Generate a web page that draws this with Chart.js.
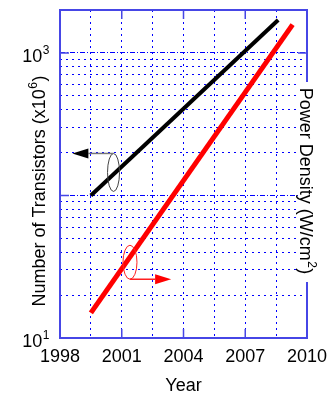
<!DOCTYPE html>
<html>
<head>
<meta charset="utf-8">
<script src="https://cdn.jsdelivr.net/npm/chart.js@4.4.0/dist/chart.umd.min.js"></script>
<style>
  html, body { margin: 0; padding: 0; background: #fff; }
  #wrap { width: 336px; height: 393px; }
</style>
</head>
<body>
<div id="wrap"><canvas id="chart" width="336" height="393"></canvas></div>
<script>
// values
const transistorYears = [1999.5, 2008.6]
const transistors = [100, 1700]
const powerYears = [1999.5, 2009.3]
const powerDensity = [15, 1580]

// axes
const yearGrid = [1998, 1999.5, 2001, 2002.5, 2004, 2005.5, 2007, 2008.5, 2010]
const yearLabels = [1998, 2001, 2004, 2007, 2010]
const logGrid = [10, 20, 30, 40, 50, 60, 70, 80, 90, 100, 200, 300, 400, 500, 600, 700, 800, 900, 1000, 2000]
const logMajor = [100, 1000]
const logLabelValues = [10, 1000]
const logLabelExponents = ['1', '3']

const family = "'Liberation Sans', Arial, sans-serif"
const gridBlue = '#0000ff'
const axisBlue = '#4646e6'

// the two circled-line markers with their arrows
const marks = [
  { year: 2000.6, value: 145, rx: 6, ry: 19, toYear: 1998.6, side: 'top', ring: '#444', shaft: '#777', head: '#000' },
  { year: 2001.4, value: 34, rx: 7, ry: 17, toYear: 2003.4, side: 'bottom', ring: '#ff2020', shaft: '#ff2020', head: '#ff0000' }
]

const toPoints = (xs, ys) => xs.map((x, i) => ({ x: x, y: ys[i] }))

// text with a raised part: [before, sup, after], drawn on an alphabetic baseline
function drawSupText (ctx, parts, x, y, angle, align) {
  const big = '18px ' + family
  const small = '12px ' + family
  ctx.save()
  ctx.translate(x, y)
  ctx.rotate(angle)
  ctx.textBaseline = 'alphabetic'
  ctx.textAlign = 'left'
  ctx.font = big
  const w0 = ctx.measureText(parts[0]).width
  const w2 = ctx.measureText(parts[2]).width
  ctx.font = small
  const w1 = ctx.measureText(parts[1]).width + 1
  const total = w0 + w1 + w2
  let u = align === 'right' ? -total : -total / 2
  ctx.font = big
  ctx.fillText(parts[0], u, 0)
  u += w0
  ctx.font = small
  ctx.fillText(parts[1], u + 0.5, -8)
  u += w1
  ctx.font = big
  ctx.fillText(parts[2], u, 0)
  ctx.restore()
}

const framePlugin = {
  id: 'frame',
  beforeDatasetsDraw (chart) {
    const { ctx, chartArea: a, scales } = chart
    const tick = 9
    ctx.save()
    ctx.strokeStyle = axisBlue
    ctx.lineWidth = 1.5
    ctx.beginPath()
    yearLabels.slice(1, -1).forEach(v => {
      const x = scales.x.getPixelForValue(v)
      ctx.moveTo(x, a.bottom)
      ctx.lineTo(x, a.bottom - tick)
      ctx.moveTo(x, a.top)
      ctx.lineTo(x, a.top + tick)
    })
    logMajor.forEach(v => {
      const y = scales.y.getPixelForValue(v)
      ctx.moveTo(a.left, y)
      ctx.lineTo(a.left + tick, y)
      ctx.moveTo(a.right, y)
      ctx.lineTo(a.right - tick, y)
    })
    ctx.stroke()
    ctx.lineWidth = 2
    ctx.strokeRect(a.left, a.top, a.right - a.left, a.bottom - a.top)
    ctx.restore()
  },
  afterDatasetsDraw (chart) {
    const { ctx, scales } = chart
    ctx.save()
    marks.forEach(m => {
      const cx = scales.x.getPixelForValue(m.year)
      const cy = scales.y.getPixelForValue(m.value)
      const tip = scales.x.getPixelForValue(m.toYear)
      const ay = m.side === 'top' ? cy - m.ry : cy + m.ry
      const dir = tip < cx ? -1 : 1
      const headLen = 16
      ctx.lineWidth = 1
      ctx.strokeStyle = m.ring
      ctx.beginPath()
      ctx.ellipse(cx, cy, m.rx, m.ry, 0, 0, Math.PI * 2)
      ctx.stroke()
      ctx.lineWidth = 1.5
      ctx.strokeStyle = m.shaft
      ctx.beginPath()
      ctx.moveTo(cx, ay)
      ctx.lineTo(tip - dir * headLen, ay)
      ctx.stroke()
      ctx.fillStyle = m.head
      ctx.beginPath()
      ctx.moveTo(tip, ay)
      ctx.lineTo(tip - dir * headLen, ay - 5)
      ctx.lineTo(tip - dir * headLen, ay + 5)
      ctx.closePath()
      ctx.fill()
    })
    ctx.restore()
  },
  afterDraw (chart) {
    const { ctx, chartArea: a, scales } = chart
    const mid = (a.top + a.bottom) / 2
    ctx.save()
    ctx.fillStyle = '#000'
    // y tick labels 10^n
    logLabelValues.forEach((v, i) => {
      const y = scales.y.getPixelForValue(v)
      drawSupText(ctx, ['10', logLabelExponents[i], ''], a.left - 10, y + 9, 0, 'right')
    })
    // left title
    drawSupText(ctx, ['Number of Transistors (x10', '6', ')'], 45, mid + 17, -Math.PI / 2, 'center')
    // right title sits over the plot edge on a white patch
    ctx.fillStyle = '#fff'
    ctx.fillRect(a.right - 9, mid - 92, 22, 200)
    ctx.fillStyle = '#000'
    drawSupText(ctx, ['Power Density (W/cm', '2', ')'], a.right - 7, mid + 7, Math.PI / 2, 'center')
    ctx.restore()
  }
}

const chartContainer = document.getElementById('chart')
const renderedChart = new Chart(chartContainer, {
  type: 'line',
  data: {
    datasets: [
      {
        label: 'Number of Transistors',
        data: toPoints(transistorYears, transistors),
        borderColor: '#000',
        borderWidth: 4,
        pointRadius: 0,
        fill: false
      },
      {
        label: 'Power Density',
        data: toPoints(powerYears, powerDensity),
        borderColor: '#ff0000',
        borderWidth: 5,
        pointRadius: 0,
        fill: false,
        yAxisID: 'y2'
      }
    ]
  },
  options: {
    responsive: false,
    animation: false,
    devicePixelRatio: 1,
    layout: { padding: { top: 10, right: 29, left: 0, bottom: 0 } },
    plugins: { legend: { display: false }, tooltip: { enabled: false } },
    scales: {
      x: {
        type: 'linear',
        min: 1998,
        max: 2010,
        afterBuildTicks: s => { s.ticks = yearGrid.map(v => ({ value: v })) },
        afterFit: s => {
          s.height = 55
          s.paddingLeft = 0
          s.paddingRight = 0
        },
        ticks: {
          autoSkip: false,
          maxRotation: 0,
          padding: 8,
          color: '#000',
          font: { family: family, size: 18 },
          callback: v => yearLabels.includes(v) ? String(v) : ''
        },
        grid: { color: gridBlue, lineWidth: 1, drawTicks: false },
        border: { display: false, dash: [2, 4] },
        title: {
          display: true,
          text: 'Year',
          color: '#000',
          font: { family: family, size: 18, lineHeight: 1 },
          padding: { top: 0, bottom: -2 }
        }
      },
      y: {
        type: 'logarithmic',
        min: 10,
        max: 2000,
        afterBuildTicks: s => { s.ticks = logGrid.map(v => ({ value: v })) },
        afterFit: s => {
          s.width = 60
          s.paddingTop = 0
          s.paddingBottom = 0
        },
        ticks: { display: false },
        grid: { color: gridBlue, lineWidth: 1, drawTicks: false },
        border: {
          display: false,
          dash: c => (c.tick && logMajor.includes(c.tick.value)) ? [5, 2, 1, 2] : [2, 4]
        }
      },
      y2: {
        type: 'logarithmic',
        display: false,
        min: 10,
        max: 2000
      }
    }
  },
  plugins: [framePlugin]
})
</script>
</body>
</html>
